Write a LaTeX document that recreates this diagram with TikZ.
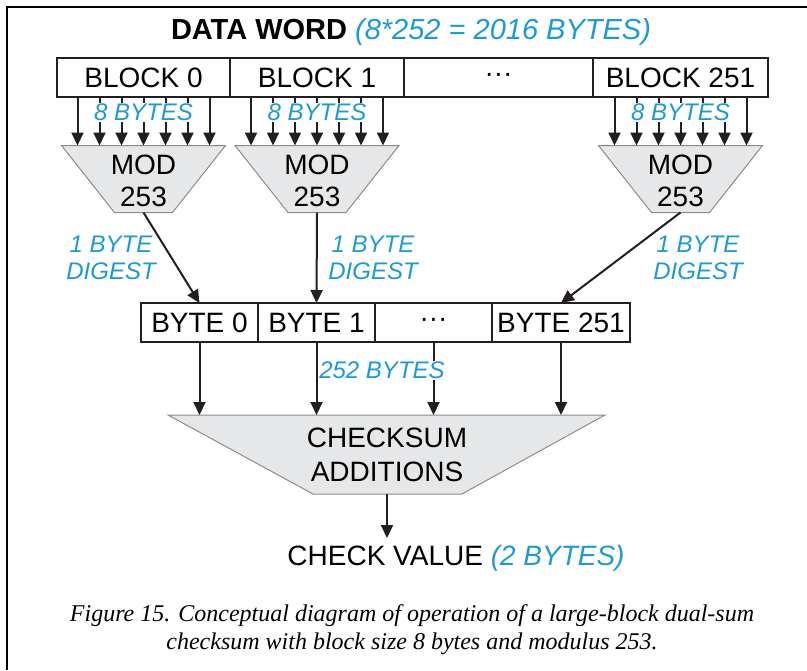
\documentclass[tikz,border=0pt]{standalone}
\usepackage{fontspec}
\setmainfont{Liberation Sans}
\newfontfamily\captionserif{Liberation Serif}
\usepackage{xcolor}
\definecolor{labelblue}{RGB}{27,154,214}
\definecolor{modgray}{RGB}{230,231,232}
\definecolor{edgegray}{RGB}{140,140,140}
\definecolor{ink}{RGB}{35,31,32}
\usetikzlibrary{calc}
\usetikzlibrary{arrows.meta}

\begin{document}
\begin{tikzpicture}[x=0.5pt,y=-0.5pt,
  cell/.style={rectangle,draw=ink,line width=1pt,minimum height=19.5pt,inner sep=0pt,outer sep=0pt,font=\fontsize{14}{16}\selectfont},
  arr/.style={-{Triangle[length=6.5pt,width=6pt]},draw=ink,line width=1pt},
  bluelabel/.style={text=labelblue,font=\fontsize{12}{13.5}\selectfont\itshape,align=center,inner sep=0.5pt},
  modbox/.style={fill=modgray,draw=edgegray,line width=0.5pt},
  bigtext/.style={font=\fontsize{14}{16}\selectfont,align=center}]
 \useasboundingbox (0,0) rectangle (807,670);
 \draw[line width=1pt] (7,670) -- (7,7) -- (807,7);

 \node[bigtext,font=\fontsize{14.5}{16}\selectfont] (title) at (411,32) {\textbf{DATA WORD} \textcolor{labelblue}{\itshape (8*252 = 2016 BYTES)}};

 % the data word, split in blocks
 \node[cell,anchor=west,minimum width=86.5pt] (blk0) at (57,77.5) {BLOCK 0};
 \node[cell,anchor=west,minimum width=87pt] (blk1) at (blk0.east) {BLOCK 1};
 \node[cell,anchor=west,minimum width=94.5pt] (blkdots) at (blk1.east) {\textperiodcentered\textperiodcentered\textperiodcentered};
 \node[cell,anchor=west,minimum width=87.5pt] (blk251) at (blkdots.east) {BLOCK 251};

 % one mod unit under every block
 \foreach \b in {0,1,251}{
  \coordinate (modin\b) at ($(blk\b.south)+(0,48.5)$);
  \coordinate (modout\b) at ($(modin\b)+(0,67)$);
  \filldraw[modbox] ($(modin\b)+(-82,0)$) -- ++(164,0) -- ++(-53,67) -- ++(-58,0) -- cycle;
  \node[bigtext] (mod\b) at ($(modin\b)+(0,35)$) {MOD\\253};
  \foreach \k in {-3,...,3}
   \draw[arr] ($(blk\b.south)+(\k*22,0)$) -- ($(modin\b)+(\k*22,0)$);
  \node[bluelabel,fill=white] (bytes\b) at ($(blk\b.south)+(0,15)$) {8 BYTES};
 }

 % the digest bytes
 \node[cell,anchor=west,minimum width=58.5pt] (byte0) at (141,322.5) {BYTE 0};
 \node[cell,anchor=west,minimum width=58.5pt] (byte1) at (byte0.east) {BYTE 1};
 \node[cell,anchor=west,minimum width=58.5pt] (bytedots) at (byte1.east) {\textperiodcentered\textperiodcentered\textperiodcentered};
 \node[cell,anchor=west,minimum width=69pt] (byte251) at (bytedots.east) {BYTE 251};

 \draw[arr] (modout0) -- (byte0.north);
 \draw[arr] (modout1) -- (byte1.north);
 \draw[arr] (modout251) -- (byte251.north);
 \node[bluelabel] (dig0) at (111,258) {1 BYTE\\DIGEST};
 \node[bluelabel] (dig1) at (373,258) {1 BYTE\\DIGEST};
 \node[bluelabel] (dig251) at (698,258) {1 BYTE\\DIGEST};

 % checksum additions
 \coordinate (sumin) at (387,415);
 \coordinate (sumout) at (387,494);
 \filldraw[modbox] (168,415) -- (605,415) -- (462,494) -- (313,494) -- cycle;
 \node[bigtext,font=\fontsize{14}{17}\selectfont] (cksum) at (387,455) {CHECKSUM\\ADDITIONS};
 \foreach \c in {byte0,byte1,bytedots,byte251}
  \draw[arr] (\c.south) -- (\c.south |- sumin);
 \node[bluelabel,fill=white] (allbytes) at (382,370) {252 BYTES};

 \node[bigtext,anchor=north] (check) at (456,538) {CHECK VALUE \textcolor{labelblue}{\itshape (2 BYTES)}};
 \draw[arr] (sumout) -- (sumout |- check.north);

 \node[align=center,font=\captionserif\itshape\fontsize{12}{14}\selectfont] (caption) at (412,630) {Figure 15. Conceptual diagram of operation of a large-block dual-sum\\checksum with block size 8 bytes and modulus 253.};
\end{tikzpicture}
\end{document}
